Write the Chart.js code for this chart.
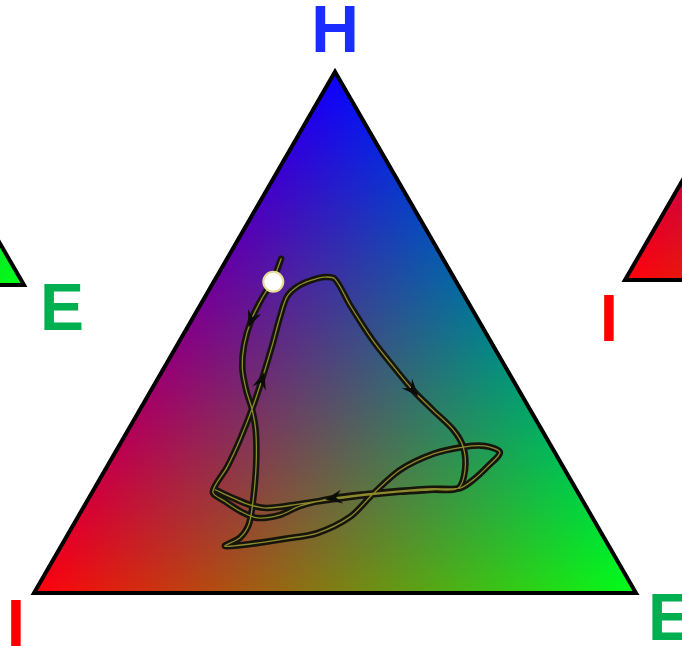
<!DOCTYPE html>
<html>
<head>
<meta charset="utf-8">
<title>Ternary trajectory</title>
<script src="https://cdn.jsdelivr.net/npm/chart.js@4.4.1/dist/chart.umd.min.js"></script>
<style>
  html, body { margin: 0; padding: 0; background: #fff; }
  #wrap { width: 682px; height: 646px; position: relative; }
</style>
</head>
<body>
<div id="wrap"><canvas id="ternary"></canvas></div>
<script>
// Trajectory in ternary fractions: H (top), E (bottom right); I = 1 - H - E
const TRAJ_H = [
  0.641, 0.600, 0.566, 0.524, 0.476, 0.432, 0.389, 0.351, 0.309, 0.246, 0.178, 0.132, 0.106, 0.090,
  0.094, 0.104, 0.115, 0.146, 0.190, 0.236, 0.267, 0.280, 0.282, 0.270,
  0.242, 0.217, 0.201,
  0.200, 0.196, 0.190, 0.182, 0.167, 0.150, 0.144, 0.157, 0.176, 0.194,
  0.242, 0.294, 0.357, 0.409, 0.472, 0.529, 0.568, 0.587, 0.599, 0.606, 0.602,
  0.552, 0.485, 0.435, 0.389, 0.351, 0.313, 0.280, 0.236, 0.201,
  0.198, 0.194, 0.188, 0.180, 0.171, 0.163, 0.169, 0.182, 0.198
];
const TRAJ_E = [
  0.090, 0.097, 0.096, 0.099, 0.111, 0.130, 0.158, 0.187, 0.214, 0.246, 0.275, 0.291, 0.289, 0.272,
  0.312, 0.365, 0.413, 0.452, 0.468, 0.490, 0.530, 0.573, 0.608, 0.639,
  0.632, 0.621, 0.607,
  0.563, 0.510, 0.458, 0.406, 0.359, 0.334, 0.299, 0.264, 0.229, 0.200,
  0.200, 0.195, 0.185, 0.174, 0.159, 0.144, 0.136, 0.143, 0.159, 0.180, 0.199,
  0.249, 0.320, 0.379, 0.435, 0.487, 0.540, 0.573, 0.598, 0.604,
  0.564, 0.511, 0.459, 0.407, 0.357, 0.306, 0.274, 0.240, 0.202
];
// direction arrows sit on these trajectory points
const ARROW_AT = [3, 30, 40, 51];
// starting state
const START_H = [0.597];
const START_E = [0.099];

// corner colours
const CORNER_RGB = { I: [255, 0, 12], E: [0, 255, 24], H: [12, 0, 255] };
const LABEL_COLOR = { I: '#ff0000', E: '#00b050', H: '#1a2cff' };

const SQ3 = Math.sqrt(3) / 2;

function toXY(h, e) {
  return { x: e + h / 2, y: h * SQ3 };
}

const trajPoints = TRAJ_H.map((h, i) => toXY(h, TRAJ_E[i]));
const startPoints = START_H.map((h, i) => toXY(h, START_E[i]));

// neighbouring panels of the same figure, shifted in triangle units
const panels = [
  { dx: 0, dy: 0, labels: [
    { c: 'H', ox: 0, oy: -20, align: 'center' },
    { c: 'I', ox: -18, oy: 53, align: 'center' },
    { c: 'E', ox: 12, oy: 47, align: 'left' }
  ] },
  { dx: -1.0166, dy: 0.5116, labels: [{ c: 'E', ox: 16, oy: 45, align: 'left' }] },
  { dx: 0.9817, dy: 0.520, labels: [{ c: 'I', ox: -16, oy: 61, align: 'center' }] }
];

function panelVerts(chart, p) {
  const xs = chart.scales.x, ys = chart.scales.y;
  const px = (x, y) => ({ x: xs.getPixelForValue(x + p.dx), y: ys.getPixelForValue(y + p.dy) });
  return { I: px(0, 0), E: px(1, 0), H: px(0.5, SQ3) };
}

// barycentric colour fill, clipped to the canvas
function paintTriangle(ctx, v, w, h) {
  const pI = v.I, pE = v.E, pH = v.H;
  const x0 = Math.max(0, Math.floor(Math.min(pI.x, pE.x, pH.x)));
  const x1 = Math.min(w, Math.ceil(Math.max(pI.x, pE.x, pH.x)));
  const y0 = Math.max(0, Math.floor(Math.min(pI.y, pE.y, pH.y)));
  const y1 = Math.min(h, Math.ceil(Math.max(pI.y, pE.y, pH.y)));
  if (x1 <= x0 || y1 <= y0) return;

  const off = document.createElement('canvas');
  off.width = x1 - x0;
  off.height = y1 - y0;
  const octx = off.getContext('2d');
  const img = octx.createImageData(off.width, off.height);
  const det = (pE.y - pH.y) * (pI.x - pH.x) + (pH.x - pE.x) * (pI.y - pH.y);
  const cI = CORNER_RGB.I, cE = CORNER_RGB.E, cH = CORNER_RGB.H;

  for (let y = 0; y < off.height; y++) {
    for (let x = 0; x < off.width; x++) {
      const px = x0 + x + 0.5, py = y0 + y + 0.5;
      const a = ((pE.y - pH.y) * (px - pH.x) + (pH.x - pE.x) * (py - pH.y)) / det;
      const b = ((pH.y - pI.y) * (px - pH.x) + (pI.x - pH.x) * (py - pH.y)) / det;
      const c = 1 - a - b;
      if (a < -0.003 || b < -0.003 || c < -0.003) continue;
      const k = (y * off.width + x) * 4;
      img.data[k] = a * cI[0] + b * cE[0] + c * cH[0];
      img.data[k + 1] = a * cI[1] + b * cE[1] + c * cH[1];
      img.data[k + 2] = a * cI[2] + b * cE[2] + c * cH[2];
      img.data[k + 3] = 255;
    }
  }
  octx.putImageData(img, 0, 0);
  ctx.drawImage(off, x0, y0);
}

const trianglePlugin = {
  id: 'ternaryTriangle',
  beforeDatasetsDraw(chart) {
    const ctx = chart.ctx;
    ctx.save();
    panels.forEach(p => {
      const v = panelVerts(chart, p);
      paintTriangle(ctx, v, chart.width, chart.height);
      ctx.beginPath();
      ctx.moveTo(v.I.x, v.I.y);
      ctx.lineTo(v.E.x, v.E.y);
      ctx.lineTo(v.H.x, v.H.y);
      ctx.closePath();
      ctx.lineWidth = 4;
      ctx.lineJoin = 'miter';
      ctx.strokeStyle = '#000';
      ctx.stroke();
    });
    ctx.restore();
  },
  afterDatasetsDraw(chart) {
    // barbed arrowheads along the trajectory
    const ctx = chart.ctx;
    const meta = chart.getDatasetMeta(2);
    ctx.save();
    ctx.fillStyle = '#0c0c06';
    ARROW_AT.forEach(i => {
      const a = meta.data[i - 1], b = meta.data[i + 1], c = meta.data[i];
      let dx = b.x - a.x, dy = b.y - a.y;
      const len = Math.hypot(dx, dy);
      dx /= len; dy /= len;
      const nx = -dy, ny = dx;
      ctx.beginPath();
      ctx.moveTo(c.x + dx * 8, c.y + dy * 8);
      ctx.lineTo(c.x - dx * 9 + nx * 7, c.y - dy * 9 + ny * 7);
      ctx.lineTo(c.x - dx * 3, c.y - dy * 3);
      ctx.lineTo(c.x - dx * 9 - nx * 7, c.y - dy * 9 - ny * 7);
      ctx.closePath();
      ctx.fill();
    });
    ctx.restore();
  },
  afterDraw(chart) {
    const ctx = chart.ctx;
    ctx.save();
    ctx.font = 'bold 66px "Liberation Sans", Arial, sans-serif';
    ctx.textBaseline = 'alphabetic';
    panels.forEach(p => {
      const v = panelVerts(chart, p);
      p.labels.forEach(l => {
        ctx.fillStyle = LABEL_COLOR[l.c];
        ctx.textAlign = l.align;
        ctx.fillText(l.c, v[l.c].x + l.ox, v[l.c].y + l.oy);
      });
    });
    ctx.restore();
  }
};

new Chart(document.getElementById('ternary'), {
  type: 'scatter',
  data: {
    datasets: [
      {
        label: 'start',
        data: startPoints,
        pointRadius: 10,
        pointBackgroundColor: '#ffffff',
        pointBorderColor: '#e6dc96',
        pointBorderWidth: 2,
        showLine: false,
        order: 0
      },
      {
        label: 'trajectory core',
        data: trajPoints,
        showLine: true,
        borderColor: '#8e8a2c',
        borderWidth: 1.3,
        pointRadius: 0,
        tension: 0.3,
        borderJoinStyle: 'round',
        borderCapStyle: 'round',
        order: 1
      },
      {
        label: 'trajectory',
        data: trajPoints,
        showLine: true,
        borderColor: '#16150c',
        borderWidth: 6.5,
        pointRadius: 0,
        tension: 0.3,
        borderJoinStyle: 'round',
        borderCapStyle: 'round',
        order: 2
      }
    ]
  },
  options: {
    responsive: true,
    maintainAspectRatio: false,
    animation: false,
    layout: { padding: 0, autoPadding: false },
    plugins: {
      legend: { display: false },
      tooltip: { enabled: false }
    },
    scales: {
      x: { type: 'linear', display: false, min: -34 / 602, max: 648 / 602 },
      y: { type: 'linear', display: false, min: -53 / 602, max: 593 / 602 }
    }
  },
  plugins: [trianglePlugin]
});
</script>
</body>
</html>
